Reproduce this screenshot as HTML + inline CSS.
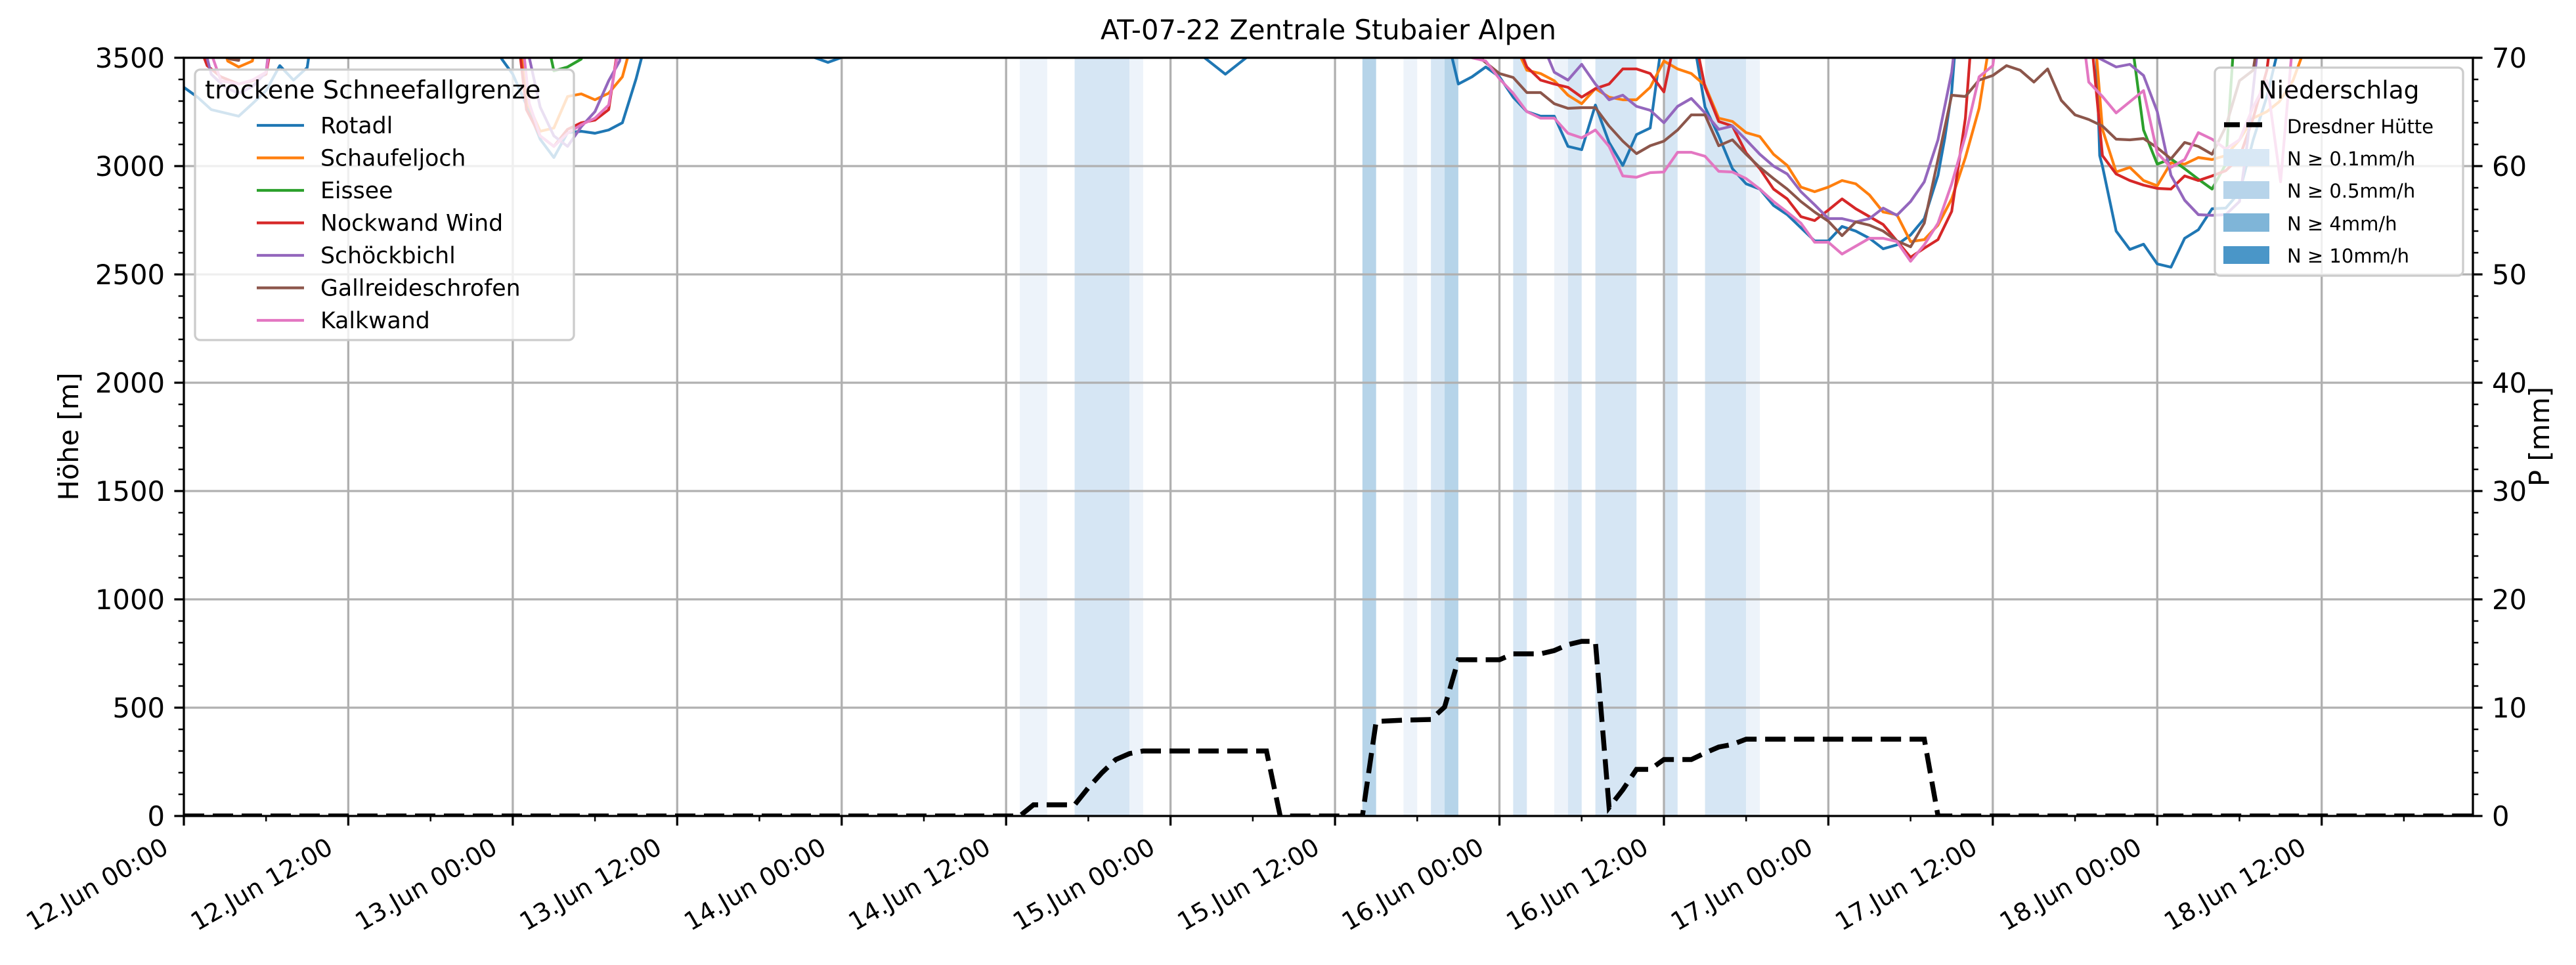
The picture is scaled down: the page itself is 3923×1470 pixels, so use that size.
<!DOCTYPE html>
<html><head><meta charset="utf-8"><style>
html,body{margin:0;padding:0;background:#fff}
svg{display:block}
text{font-family:"DejaVu Sans","Liberation Sans",sans-serif}
</style></head><body>
<svg width="3923" height="1470" viewBox="0 0 3923 1470" xmlns="http://www.w3.org/2000/svg">
<defs><clipPath id="c"><rect x="280" y="88" width="3486" height="1155"/></clipPath></defs>
<rect width="3923" height="1470" fill="#fff"/>

<g transform="translate(280 0) scale(20.87 1)">
<rect x="61" y="88" width="2" height="1155" fill="#edf3fa"/>
<rect x="65" y="88" width="4" height="1155" fill="#d6e6f4"/>
<rect x="69" y="88" width="1" height="1155" fill="#edf3fa"/>
<rect x="86" y="88" width="1" height="1155" fill="#b6d4e9"/>
<rect x="89" y="88" width="1" height="1155" fill="#edf3fa"/>
<rect x="91" y="88" width="1" height="1155" fill="#d6e6f4"/>
<rect x="92" y="88" width="1" height="1155" fill="#b6d4e9"/>
<rect x="97" y="88" width="1" height="1155" fill="#d6e6f4"/>
<rect x="100" y="88" width="1" height="1155" fill="#edf3fa"/>
<rect x="101" y="88" width="1" height="1155" fill="#d6e6f4"/>
<rect x="103" y="88" width="3" height="1155" fill="#d6e6f4"/>
<rect x="108" y="88" width="1" height="1155" fill="#d6e6f4"/>
<rect x="111" y="88" width="3" height="1155" fill="#d6e6f4"/>
<rect x="114" y="88" width="1" height="1155" fill="#edf3fa"/>
</g>

<g stroke="#b0b0b0" stroke-width="3.3" fill="none">
<path d="M530.4 88V1243M780.9 88V1243M1031.3 88V1243M1281.8 88V1243M1532.2 88V1243M1782.6 88V1243M2033.1 88V1243M2283.5 88V1243M2534 88V1243M2784.4 88V1243M3034.8 88V1243M3285.3 88V1243M3535.7 88V1243"/>
<path d="M280 1078H3766M280 913H3766M280 748H3766M280 583H3766M280 418H3766M280 253H3766"/>
</g>

<g clip-path="url(#c)">
<g transform="translate(280 0) scale(20.87 1)" fill="none" stroke-width="4.2" stroke-linejoin="round" stroke-linecap="square">
<g stroke="#1f77b4">
<polyline vector-effect="non-scaling-stroke" points="-1,120 0,133 1,148 2,167 3,172 4,177 5,158 6,138 7,100 8,122 9,103 9.3,60 10,40"/>
<polyline vector-effect="non-scaling-stroke" points="22,40 23.2,90 24,113 25,160 26,212 27,240 28,202 29,200 30,203 31,198 32,187 33,120 34,40"/>
<polyline vector-effect="non-scaling-stroke" points="45,80 47,95 49,80"/>
<polyline vector-effect="non-scaling-stroke" points="74,80 76,113 78,80"/>
<polyline vector-effect="non-scaling-stroke" points="92,40 93,128 94,117 95,102 96,117 97,148 98,170 99,177 100,177 101,223 102,228 103,160 104,217 105,252 106,205 107,195 108,40"/>
<polyline vector-effect="non-scaling-stroke" points="110,40 111,163 112,207 113,257 114,280 115,288 116,313 117,327 118,347 119,367 120,367 121,345 122,352 123,363 124,379 125,373 126,358 127,333 128,267 128.5,210 129,140 129.3,60 129.5,40"/>
<polyline vector-effect="non-scaling-stroke" points="139.5,40 139.8,237 140,253 141,352 142,380 143,372 144,402 145,407 146,363 147,350 148,318 149,317 150,293 151,213 152,147 153,60 153.2,40"/>
</g>
<g stroke="#ff7f0e">
<polyline vector-effect="non-scaling-stroke" points="2.5,40 3.2,93 4,102 5,93 5.5,40"/>
<polyline vector-effect="non-scaling-stroke" points="24.4,40 25,153 26,200 27,195 28,147 29,143 30,152 31,142 32,117 33,40"/>
<polyline vector-effect="non-scaling-stroke" points="96.5,40 98,107 99,112 100,123 101,145 102,158 103,135 104,148 105,152 106,152 107,133 108,93 109,105 110,112 111,130 112,180 113,185 114,202 115,208 116,235 117,252 118,285 119,292 120,285 121,275 122,280 123,297 124,323 125,327 126,368 127,365 128,343 129,303 130,240 131,165 131.8,60 132,40"/>
<polyline vector-effect="non-scaling-stroke" points="139.4,40 140,197 141,262 142,255 143,275 144,283 145,248 146,250 147,240 148,243 149,237 150,213 151,180 152,170 152.9,155 153.9,123 155,60 155.3,40"/>
</g>
<g stroke="#2ca02c">
<polyline vector-effect="non-scaling-stroke" points="26.3,40 27,108 28,102 29,90 29.5,40"/>
<polyline vector-effect="non-scaling-stroke" points="142,40 143,198 144,250 145,242 146,257 147,273 148,288 149,250 149.6,60 149.7,40"/>
</g>
<g stroke="#d62728">
<polyline vector-effect="non-scaling-stroke" points="0.6,40 1.7,100 2.7,117 4,128 5,123 6,113 6.6,40"/>
<polyline vector-effect="non-scaling-stroke" points="24.3,40 25,167 26,207 27,223 28,197 29,187 30,183 31,167 31.9,40"/>
<polyline vector-effect="non-scaling-stroke" points="96.8,40 98,102 99,122 100,128 101,133 102,148 103,135 104,128 105,105 106,105 107,112 108,140 109,40"/>
<polyline vector-effect="non-scaling-stroke" points="110.1,40 111,133 112,185 113,192 114,233 115,257 116,288 117,303 118,330 119,336 120,320 121,303 122,318 123,330 124,342 125,367 126,392 127,378 128,365 129,322 130,180 130.5,40"/>
<polyline vector-effect="non-scaling-stroke" points="139.1,40 140,237 141,265 142,275 143,282 144,287 145,288 146,268 147,275 148,268 149,260 150,240 151,180 152,107 152.4,40"/>
</g>
<g stroke="#9467bd">
<polyline vector-effect="non-scaling-stroke" points="1.1,40 2,113 3,133 4,142 5,132 6,110 6.4,40"/>
<polyline vector-effect="non-scaling-stroke" points="24.7,40 26,163 27,207 28,223 29,193 30,170 31,123 31.8,93 32.1,40"/>
<polyline vector-effect="non-scaling-stroke" points="98.6,40 100,110 101,122 102,98 103,128 104,152 105,145 106,162 107,168 108,187 109,162 110,150 111,172 112,197 113,192 114,213 115,235 116,253 117,265 118,292 119,312 120,333 121,333 122,338 123,333 124,317 125,328 126,307 127,277 128,213 129,110 129.4,40"/>
<polyline vector-effect="non-scaling-stroke" points="139.4,40 139.6,87 141,102 142,98 143,115 144,170 145,267 146,305 147,327 148,328 149,327 150,307 150.6,213 151.5,40"/>
</g>
<g stroke="#8c564b">
<polyline vector-effect="non-scaling-stroke" points="2.3,40 2.5,83 3.4,90 4,92 4.3,40"/>
<polyline vector-effect="non-scaling-stroke" points="93.8,40 94.8,92 96,112 97,118 98,141 99,141 100,158 101,165 102,164 103,164 104,192 105,215 106,234 107,222 108,215 109,198 110,175 111,175 112,222 113,213 114,235 115,255 116,272 117,288 118,307 119,323 120,337 121,359 122,338 123,343 124,352 125,367 126,376 127,340 128,243 129,145 130,147 131,122 132,115 133,100 134,107 135,125 136,105 137,153 138,175 139,182 140,192 141,212 142,213 143,211 144,225 145,242 146,217 147,223 148,235 149,193 150,123 151,107 151.5,40"/>
</g>
<g stroke="#e377c2">
<polyline vector-effect="non-scaling-stroke" points="1.3,40 2.7,123 4,128 5,122 6,110 6.5,40"/>
<polyline vector-effect="non-scaling-stroke" points="24.6,40 25.2,157 26,207 27,223 28,203 29,190 30,180 31,160 32,40"/>
<polyline vector-effect="non-scaling-stroke" points="93.3,40 94,88 95,93 96,120 97,142 98,170 99,180 100,180 101,203 102,210 103,198 104,223 105,268 106,270 107,263 108,262 109,232 110,232 111,238 112,261 113,262 114,272 115,288 116,307 117,323 118,340 119,369 120,369 121,387 122,375 123,363 124,363 125,368 126,398 127,373 128,340 129,280 130,207 131,117 132,100 132.4,40"/>
<polyline vector-effect="non-scaling-stroke" points="138.5,40 139,125 140,147 141,172 142,155 143,138 144,233 145,255 146,243 147,202 148,212 149,227 150,213 151,163 152,123 153,277 153.9,60 154,40"/>
</g>
</g>
<polyline fill="none" stroke="#000" stroke-width="7.5" stroke-dasharray="31 13" points="280,1243 1553.1,1243 1573.9,1226 1636.6,1226 1657.4,1200 1678.3,1177 1699.2,1157 1720,1148 1740.9,1144 1928.7,1144 1949.6,1243 2074.8,1243 2095.7,1099 2137.4,1097 2179.2,1096 2200,1077 2220.9,1005 2283.5,1005 2304.4,996 2346.1,996 2367,991 2387.9,982 2408.7,977 2429.6,977 2450.5,1230 2471.4,1203 2492.2,1172 2513.1,1172 2534,1157 2575.7,1157 2596.6,1147 2617.4,1138 2638.3,1134 2659.2,1126 2930.5,1126 2951.4,1243 3766,1243"/>
</g>

<rect x="280" y="88" width="3486" height="1155" fill="none" stroke="#000" stroke-width="3.3"/>

<g stroke="#000" stroke-width="3.3" fill="none">
<path d="M280 1243h-14.6M280 1078h-14.6M280 913h-14.6M280 748h-14.6M280 583h-14.6M280 418h-14.6M280 253h-14.6M280 88h-14.6"/>
<path d="M3766 1243h14.6M3766 1078h14.6M3766 913h14.6M3766 748h14.6M3766 583h14.6M3766 418h14.6M3766 253h14.6M3766 88h14.6"/>
<path d="M280 1243v14.6M530.4 1243v14.6M780.9 1243v14.6M1031.3 1243v14.6M1281.8 1243v14.6M1532.2 1243v14.6M1782.6 1243v14.6M2033.1 1243v14.6M2283.5 1243v14.6M2534 1243v14.6M2784.4 1243v14.6M3034.8 1243v14.6M3285.3 1243v14.6M3535.7 1243v14.6"/>
</g>
<g stroke="#000" stroke-width="2.5" fill="none">
<path d="M280 1210h-8.3M280 1177h-8.3M280 1144h-8.3M280 1111h-8.3M280 1045h-8.3M280 1012h-8.3M280 979h-8.3M280 946h-8.3M280 880h-8.3M280 847h-8.3M280 814h-8.3M280 781h-8.3M280 715h-8.3M280 682h-8.3M280 649h-8.3M280 616h-8.3M280 550h-8.3M280 517h-8.3M280 484h-8.3M280 451h-8.3M280 385h-8.3M280 352h-8.3M280 319h-8.3M280 286h-8.3M280 220h-8.3M280 187h-8.3M280 154h-8.3M280 121h-8.3"/>
<path d="M3766 1210h8.3M3766 1177h8.3M3766 1144h8.3M3766 1111h8.3M3766 1045h8.3M3766 1012h8.3M3766 979h8.3M3766 946h8.3M3766 880h8.3M3766 847h8.3M3766 814h8.3M3766 781h8.3M3766 715h8.3M3766 682h8.3M3766 649h8.3M3766 616h8.3M3766 550h8.3M3766 517h8.3M3766 484h8.3M3766 451h8.3M3766 385h8.3M3766 352h8.3M3766 319h8.3M3766 286h8.3M3766 220h8.3M3766 187h8.3M3766 154h8.3M3766 121h8.3"/>
<path d="M405.2 1243v8.3M655.7 1243v8.3M906.1 1243v8.3M1156.5 1243v8.3M1407 1243v8.3M1657.4 1243v8.3M1907.9 1243v8.3M2158.3 1243v8.3M2408.7 1243v8.3M2659.2 1243v8.3M2909.6 1243v8.3M3160.1 1243v8.3M3410.5 1243v8.3M3660.9 1243v8.3"/>
</g>

<g font-size="41.7" fill="#000" text-anchor="end">
<text x="251" y="1258">0</text><text x="251" y="1093">500</text><text x="251" y="928">1000</text><text x="251" y="763">1500</text><text x="251" y="598">2000</text><text x="251" y="433">2500</text><text x="251" y="268">3000</text><text x="251" y="103">3500</text>
</g>
<g font-size="41.7" fill="#000" text-anchor="start">
<text x="3795" y="1258">0</text><text x="3795" y="1093">10</text><text x="3795" y="928">20</text><text x="3795" y="763">30</text><text x="3795" y="598">40</text><text x="3795" y="433">50</text><text x="3795" y="268">60</text><text x="3795" y="103">70</text>
</g>

<g font-size="38" fill="#000" text-anchor="end">
<text transform="translate(259 1298) rotate(-30)">12.Jun 00:00</text>
<text transform="translate(509.4 1298) rotate(-30)">12.Jun 12:00</text>
<text transform="translate(759.9 1298) rotate(-30)">13.Jun 00:00</text>
<text transform="translate(1010.3 1298) rotate(-30)">13.Jun 12:00</text>
<text transform="translate(1260.8 1298) rotate(-30)">14.Jun 00:00</text>
<text transform="translate(1511.2 1298) rotate(-30)">14.Jun 12:00</text>
<text transform="translate(1761.6 1298) rotate(-30)">15.Jun 00:00</text>
<text transform="translate(2012.1 1298) rotate(-30)">15.Jun 12:00</text>
<text transform="translate(2262.5 1298) rotate(-30)">16.Jun 00:00</text>
<text transform="translate(2513 1298) rotate(-30)">16.Jun 12:00</text>
<text transform="translate(2763.4 1298) rotate(-30)">17.Jun 00:00</text>
<text transform="translate(3013.8 1298) rotate(-30)">17.Jun 12:00</text>
<text transform="translate(3264.3 1298) rotate(-30)">18.Jun 00:00</text>
<text transform="translate(3514.7 1298) rotate(-30)">18.Jun 12:00</text>
</g>

<text transform="translate(119 665) rotate(-90)" font-size="41.7" text-anchor="middle">Höhe [m]</text>
<text transform="translate(3882 665) rotate(-90)" font-size="41.7" text-anchor="middle">P [mm]</text>
<text x="2023" y="60" font-size="41.7" text-anchor="middle">AT-07-22 Zentrale Stubaier Alpen</text>

<rect x="297" y="106" width="577" height="412" rx="8" fill="#fff" fill-opacity="0.8" stroke="#cccccc" stroke-width="3.3"/>
<text x="312" y="150" font-size="38.5">trockene Schneefallgrenze</text>
<g stroke-width="4.2">
<line x1="391" y1="191" x2="463" y2="191" stroke="#1f77b4"/>
<line x1="391" y1="240.5" x2="463" y2="240.5" stroke="#ff7f0e"/>
<line x1="391" y1="290" x2="463" y2="290" stroke="#2ca02c"/>
<line x1="391" y1="339.5" x2="463" y2="339.5" stroke="#d62728"/>
<line x1="391" y1="389" x2="463" y2="389" stroke="#9467bd"/>
<line x1="391" y1="438.5" x2="463" y2="438.5" stroke="#8c564b"/>
<line x1="391" y1="488" x2="463" y2="488" stroke="#e377c2"/>
</g>
<g font-size="34.7" fill="#000">
<text x="488" y="203">Rotadl</text>
<text x="488" y="252.5">Schaufeljoch</text>
<text x="488" y="302">Eissee</text>
<text x="488" y="351.5">Nockwand Wind</text>
<text x="488" y="401">Schöckbichl</text>
<text x="488" y="450.5">Gallreideschrofen</text>
<text x="488" y="500">Kalkwand</text>
</g>

<rect x="3373" y="103" width="378" height="317" rx="8" fill="#fff" fill-opacity="0.8" stroke="#cccccc" stroke-width="3.3"/>
<text x="3562" y="150" font-size="37.5" text-anchor="middle">Niederschlag</text>
<line x1="3387" y1="190" x2="3445" y2="190" stroke="#000" stroke-width="7.5" stroke-dasharray="24 10"/>
<text x="3483" y="203" font-size="29">Dresdner Hütte</text>
<rect x="3386" y="227" width="70" height="26" fill="#d9e8f5"/>
<rect x="3386" y="276" width="70" height="27" fill="#b7d4ea"/>
<rect x="3386" y="325" width="70" height="28" fill="#7fb5d8"/>
<rect x="3386" y="375" width="70" height="27" fill="#4a96c8"/>
<g font-size="29" fill="#000">
<text x="3483" y="252">N ≥ 0.1mm/h</text>
<text x="3483" y="301">N ≥ 0.5mm/h</text>
<text x="3483" y="351">N ≥ 4mm/h</text>
<text x="3483" y="400">N ≥ 10mm/h</text>
</g>
</svg>
</body></html>
